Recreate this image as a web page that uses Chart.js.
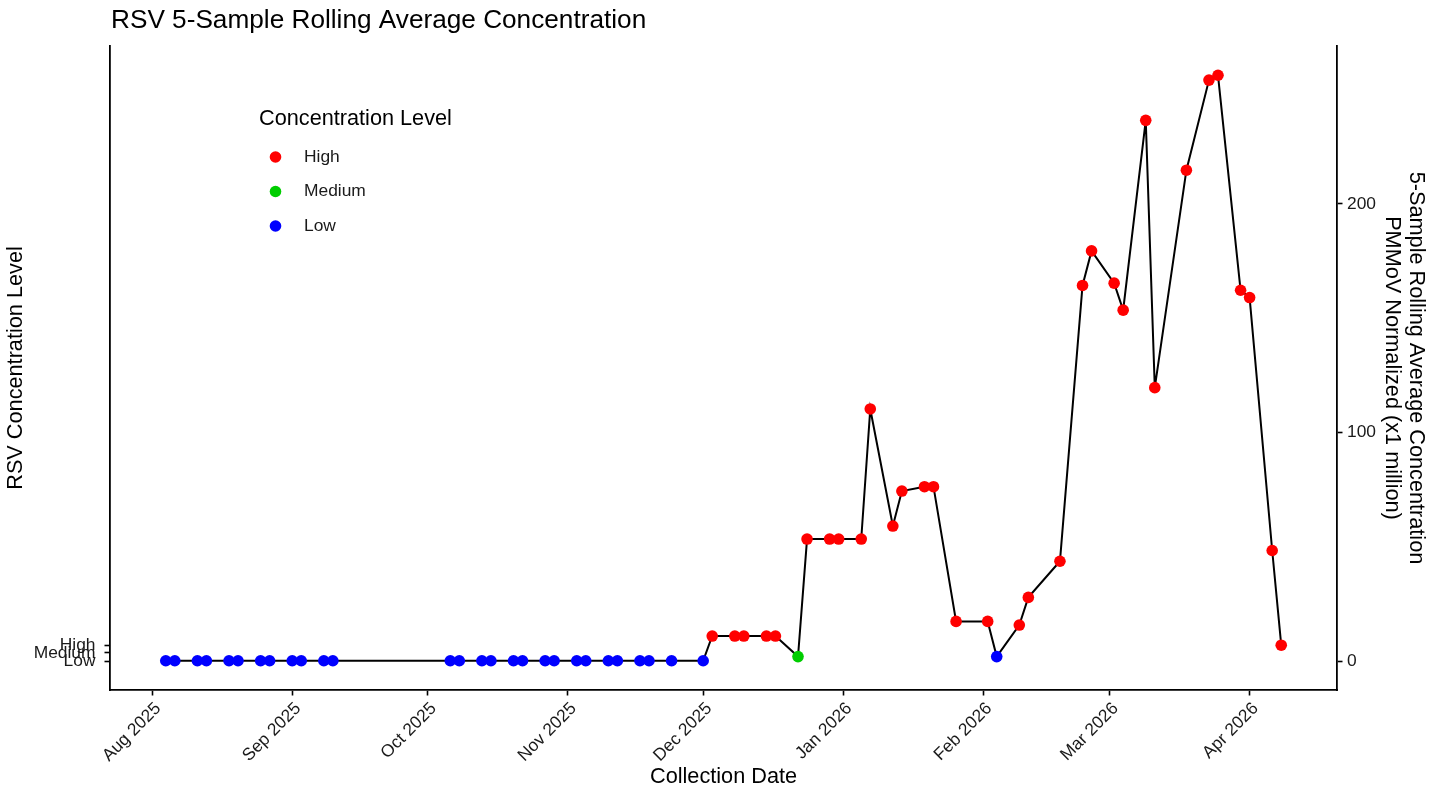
<!DOCTYPE html>
<html>
<head>
<meta charset="utf-8">
<title>RSV 5-Sample Rolling Average Concentration</title>
<script src="https://cdn.jsdelivr.net/npm/chart.js@4.4.1/dist/chart.umd.min.js"></script>
<style>
  html, body { margin: 0; padding: 0; background: #fff; }
  #wrap { position: relative; width: 1443px; height: 791px; }
</style>
</head>
<body>
<div id="wrap"><canvas id="rsvChart"></canvas></div>
<script>
// Collection dates (Mon / Wed samples)
const sampleDates = [
    '2025-08-04', '2025-08-06', '2025-08-11', '2025-08-13', '2025-08-18', '2025-08-20',
    '2025-08-25', '2025-08-27', '2025-09-01', '2025-09-03', '2025-09-08', '2025-09-10',
    '2025-10-06', '2025-10-08', '2025-10-13', '2025-10-15', '2025-10-20', '2025-10-22',
    '2025-10-27', '2025-10-29', '2025-11-03', '2025-11-05', '2025-11-10', '2025-11-12',
    '2025-11-17', '2025-11-19', '2025-11-24', '2025-12-01', '2025-12-03', '2025-12-08',
    '2025-12-10', '2025-12-15', '2025-12-17', '2025-12-22', '2025-12-24', '2025-12-29',
    '2025-12-31', '2026-01-05', '2026-01-07', '2026-01-12', '2026-01-14', '2026-01-19',
    '2026-01-21', '2026-01-26', '2026-02-02', '2026-02-04', '2026-02-09', '2026-02-11',
    '2026-02-18', '2026-02-23', '2026-02-25', '2026-03-02', '2026-03-04', '2026-03-09',
    '2026-03-11', '2026-03-18', '2026-03-23', '2026-03-25', '2026-03-30', '2026-04-01',
    '2026-04-06', '2026-04-08'
];

// 5-sample rolling average, PMMoV normalized (x1 million)
const rollingAvg = [
    0.2, 0.2, 0.2, 0.2, 0.2, 0.2,
    0.2, 0.2, 0.2, 0.2, 0.2, 0.2,
    0.2, 0.2, 0.2, 0.2, 0.2, 0.2,
    0.2, 0.2, 0.2, 0.2, 0.2, 0.2,
    0.2, 0.2, 0.2, 0.2, 11.0, 11.0,
    11.0, 11.0, 11.0, 2.0, 53.4, 53.4,
    53.4, 53.4, 110.3, 59.1, 74.4, 76.3,
    76.3, 17.4, 17.4, 2.0, 15.8, 27.9,
    43.7, 164.3, 179.4, 165.3, 153.5, 236.5,
    119.6, 214.7, 254.1, 256.2, 162.2, 159.0,
    48.4, 7.0
];

// Concentration level of each sample
const levels = [
    'Low', 'Low', 'Low', 'Low', 'Low', 'Low',
    'Low', 'Low', 'Low', 'Low', 'Low', 'Low',
    'Low', 'Low', 'Low', 'Low', 'Low', 'Low',
    'Low', 'Low', 'Low', 'Low', 'Low', 'Low',
    'Low', 'Low', 'Low', 'Low', 'High', 'High',
    'High', 'High', 'High', 'Medium', 'High', 'High',
    'High', 'High', 'High', 'High', 'High', 'High',
    'High', 'High', 'High', 'Low', 'High', 'High',
    'High', 'High', 'High', 'High', 'High', 'High',
    'High', 'High', 'High', 'High', 'High', 'High',
    'High', 'High'
];

const levelNames = ['High', 'Medium', 'Low'];
const levelColors = { High: '#FF0000', Medium: '#00CD00', Low: '#0000FF' };

// Month ticks on the date axis
const monthTicks = ['2025-08-01', '2025-09-01', '2025-10-01', '2025-11-01', '2025-12-01',
    '2026-01-01', '2026-02-01', '2026-03-01', '2026-04-01'];
const monthLabels = ['Aug 2025', 'Sep 2025', 'Oct 2025', 'Nov 2025', 'Dec 2025',
    'Jan 2026', 'Feb 2026', 'Mar 2026', 'Apr 2026'];

// Left axis level markers, right axis concentration ticks
const levelTickValues = [0, 3.6, 7];
const levelTickLabels = ['Low', 'Medium', 'High'];
const concTicks = [0, 100, 200];

const FONT = '"Liberation Sans", Arial, Helvetica, sans-serif';
Chart.defaults.font.family = FONT;
Chart.defaults.color = '#000';

// days since 2025-08-01
const ORIGIN = Date.UTC(2025, 7, 1);
const toDay = s => (Date.parse(s) - ORIGIN) / 86400000;

const points = sampleDates.map((d, i) => ({ x: toDay(d), y: rollingAvg[i] }));
const pointColors = levels.map(l => levelColors[l]);
const monthDays = monthTicks.map(toDay);

// 5% padding around the data on both axes
const xLo = Math.min(...points.map(p => p.x));
const xHi = Math.max(...points.map(p => p.x));
const xPad = (xHi - xLo) * 0.05;
const yLo = Math.min(...rollingAvg);
const yHi = Math.max(...rollingAvg);
const yPad = (yHi - yLo) * 0.05;

// Title + inside legend
const titleAndLegend = {
    id: 'titleAndLegend',
    afterDraw(chart) {
        const c = chart.ctx;
        c.save();
        c.textAlign = 'left';
        c.textBaseline = 'middle';
        c.fillStyle = '#000';
        c.font = '26.2px ' + FONT;
        c.fillText('RSV 5-Sample Rolling Average Concentration', 111, 21);

        c.font = '21.7px ' + FONT;
        c.fillText('Concentration Level', 259, 119);

        c.font = '17.4px ' + FONT;
        levelNames.forEach((name, i) => {
            const y = 157 + i * 34.5;
            c.beginPath();
            c.arc(275.5, y, 5.8, 0, Math.PI * 2);
            c.fillStyle = levelColors[name];
            c.fill();
            c.fillStyle = '#1a1a1a';
            c.fillText(name, 304, y);
        });
        c.restore();
    }
};

const axisGrid = { drawOnChartArea: false, tickLength: 5.5, tickColor: '#000', tickWidth: 1.6 };
const axisBorder = { color: '#000', width: 1.8 };

const ctx = document.getElementById('rsvChart');
new Chart(ctx, {
    type: 'line',
    data: {
        datasets: [{
            data: points,
            yAxisID: 'y2',
            borderColor: '#000',
            borderWidth: 2,
            tension: 0,
            pointRadius: 5.8,
            pointBorderWidth: 0,
            pointBackgroundColor: pointColors,
            pointBorderColor: pointColors
        }]
    },
    options: {
        responsive: true,
        maintainAspectRatio: false,
        animation: false,
        layout: { padding: { top: 46, left: 0, right: 0, bottom: 0 } },
        plugins: {
            legend: { display: false },
            tooltip: { enabled: false }
        },
        scales: {
            x: {
                type: 'linear',
                position: 'bottom',
                min: xLo - xPad,
                max: xHi + xPad,
                afterBuildTicks: s => { s.ticks = monthDays.map(v => ({ value: v })); },
                afterFit: s => { s.height = 101; },
                ticks: {
                    autoSkip: false,
                    minRotation: 45,
                    maxRotation: 45,
                    padding: 3,
                    labelOffset: 6,
                    color: '#1a1a1a',
                    font: { size: 17.4 },
                    callback: (v, i) => monthLabels[i]
                },
                grid: axisGrid,
                border: axisBorder,
                title: {
                    display: true,
                    text: 'Collection Date',
                    font: { size: 21.7 },
                    padding: { top: 0, bottom: 1 }
                }
            },
            y: {
                position: 'left',
                min: yLo - yPad,
                max: yHi + yPad,
                afterBuildTicks: s => { s.ticks = levelTickValues.map(v => ({ value: v })); },
                afterFit: s => { s.width = 110; },
                ticks: {
                    autoSkip: false,
                    padding: 9,
                    color: '#1a1a1a',
                    font: { size: 17.4 },
                    callback: (v, i) => levelTickLabels[i]
                },
                grid: axisGrid,
                border: axisBorder,
                title: {
                    display: true,
                    text: 'RSV Concentration Level',
                    font: { size: 21.7 },
                    padding: { top: 3.5, bottom: 0 }
                }
            },
            y2: {
                position: 'right',
                min: yLo - yPad,
                max: yHi + yPad,
                afterBuildTicks: s => { s.ticks = concTicks.map(v => ({ value: v })); },
                afterFit: s => { s.width = 106; },
                ticks: {
                    autoSkip: false,
                    padding: 4.5,
                    color: '#1a1a1a',
                    font: { size: 17.4 }
                },
                grid: axisGrid,
                border: axisBorder,
                title: {
                    display: true,
                    text: ['5-Sample Rolling Average Concentration', 'PMMoV Normalized (x1 million)'],
                    font: { size: 21.7, lineHeight: 1.1 },
                    padding: { top: 15, bottom: 0 }
                }
            }
        }
    },
    plugins: [titleAndLegend]
});
</script>
</body>
</html>
